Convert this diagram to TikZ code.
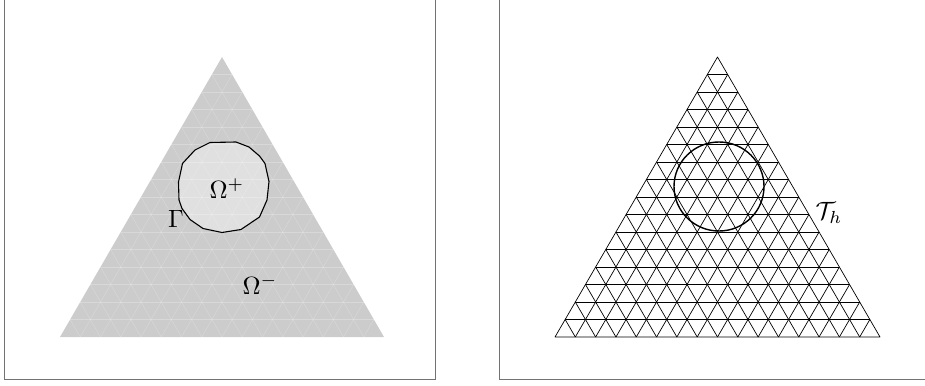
\documentclass[tikz,border=0pt]{standalone}
\usetikzlibrary{calc}
\begin{document}
\begin{tikzpicture}[x=1pt,y=-1pt,
  framebox/.style={draw=black!55,line width=1pt},
  lbl/.style={inner sep=0pt,scale=2.5},
  faintmesh/.style={draw=white,draw opacity=0.25,line width=0.4pt},
  blackmesh/.style={draw=black,line width=0.7pt}]
\useasboundingbox (0,0) rectangle (925,385);
% frames
\draw[framebox] (4,-5) -- (4,379) -- (435,379) -- (435,-5);
\draw[framebox] (499,-5) -- (499,379) -- (930,379);
% left triangle
\coordinate (LA) at (222,57);
\coordinate (LB) at (60,337);
\coordinate (LC) at (384,337);
\fill[black!20] (LA) -- (LB) -- (LC) -- cycle;
\fill[black!12] (210,142.5) -- (236,142) -- (249,147) -- (259.5,156) -- (265,163.5) -- (269,181.5)
  -- (267,200) -- (259.5,217) -- (241,229.5) -- (222,232.5) -- (203,228.5) -- (190,219.5)
  -- (182,208.5) -- (179,200) -- (178.5,182) -- (182.5,163.5) -- (195,150) -- cycle;
\foreach \i in {1,...,15}{
  \draw[faintmesh] ($(LA)!\i/16!(LB)$) -- ($(LA)!\i/16!(LC)$);
  \draw[faintmesh] ($(LB)!\i/16!(LA)$) -- ($(LB)!\i/16!(LC)$);
  \draw[faintmesh] ($(LC)!\i/16!(LA)$) -- ($(LC)!\i/16!(LB)$);
}
\draw[black,line width=1.1pt,line join=round] (210,142.5) -- (236,142) -- (249,147) -- (259.5,156) -- (265,163.5) -- (269,181.5)
  -- (267,200) -- (259.5,217) -- (241,229.5) -- (222,232.5) -- (203,228.5) -- (190,219.5)
  -- (182,208.5) -- (179,200) -- (178.5,182) -- (182.5,163.5) -- (195,150) -- cycle;
\node[lbl] (omplus) at (227,189) {$\Omega^+$};
\node[lbl] (gamma) at (176,219) {$\Gamma$};
\node[lbl] (omminus) at (260,285) {$\Omega^-$};
% right triangle
\coordinate (RA) at (717.5,57);
\coordinate (RB) at (555,337);
\coordinate (RC) at (880,337);
\draw[blackmesh,line join=round] (RA) -- (RB) -- (RC) -- cycle;
\foreach \i in {1,...,15}{
  \draw[blackmesh] ($(RA)!\i/16!(RB)$) -- ($(RA)!\i/16!(RC)$);
  \draw[blackmesh] ($(RB)!\i/16!(RA)$) -- ($(RB)!\i/16!(RC)$);
  \draw[blackmesh] ($(RC)!\i/16!(RA)$) -- ($(RC)!\i/16!(RB)$);
}
\draw[black,line width=1.4pt] (719,186.5) ellipse (45 and 44.5);
\node[lbl] (th) at (829,213) {$\mathcal{T}_h$};
\end{tikzpicture}
\end{document}
